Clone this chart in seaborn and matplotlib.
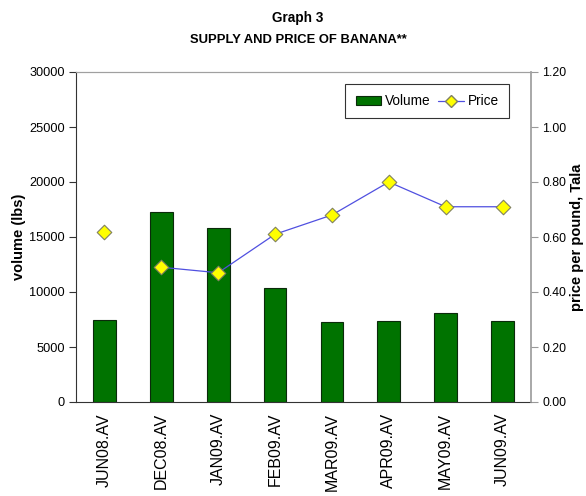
import matplotlib
matplotlib.use("Agg")
import matplotlib.pyplot as plt
import seaborn as sns
import numpy as np
import pandas as pd
from matplotlib.lines import Line2D
from matplotlib.patches import Patch
from matplotlib import font_manager

categories = ["JUN08.AV", "DEC08.AV", "JAN09.AV", "FEB09.AV",
              "MAR09.AV", "APR09.AV", "MAY09.AV", "JUN09.AV"]
volume = [7500, 17300, 15800, 10400, 7300, 7400, 8100, 7400]
price = [0.62, 0.49, 0.47, 0.61, 0.68, 0.80, 0.71, 0.71]
vol_ticks = [0, 5000, 10000, 15000, 20000, 25000, 30000]
price_ticks = [0.0, 0.2, 0.4, 0.6, 0.8, 1.0, 1.2]

sns.set_style("white")
plt.rcParams['font.family'] = ['Liberation Sans', 'DejaVu Sans']
for k in ["text.color", "axes.labelcolor", "xtick.color", "ytick.color"]:
    plt.rcParams[k] = "black"

names = {f.name for f in font_manager.fontManager.ttflist}
has_narrow = 'Liberation Sans Narrow' in names
narrow = ['Liberation Sans Narrow', 'Liberation Sans', 'DejaVu Sans'] \
    if has_narrow else ['Liberation Sans', 'DejaVu Sans']
ns = 1.0 if has_narrow else 0.85

df = pd.DataFrame({"cat": categories, "volume": volume, "price": price})
df["x"] = np.arange(len(df))

fig = plt.figure(figsize=(5.86, 4.96), dpi=100)
ax = fig.add_axes([76/586, 1 - 402/496, (531-76)/586, (402-72)/496])

sns.barplot(data=df, x="x", y="volume", ax=ax, width=0.4,
            color="#007300", edgecolor="#0b2a0b", linewidth=0.8,
            saturation=1, native_scale=True)
ax.set_xlim(-0.5, len(df) - 0.5)
ax.set_ylim(0, 30000)
ax.set_yticks(vol_ticks)
ax.set_yticklabels([str(v) for v in vol_ticks], fontsize=10.8 * ns, family=narrow)
ax.set_xticks(df["x"])
ax.set_xticklabels(categories, rotation=90, fontsize=11.5)
ax.tick_params(axis="x", length=0, pad=8)
ax.set_xticks(np.arange(-0.5, len(df), 1), minor=True)
ax.tick_params(axis="x", which="minor", length=5, direction="out", color="#333333")
ax.tick_params(axis="y", length=5, direction="out", color="#333333", pad=3)
ax.set_xlabel("")
ax.set_ylabel("volume (lbs)", fontsize=10.5, fontweight="bold", va="center")
ax.yaxis.set_label_coords((19 - 76) / 455, 0.5)
for s in ["left", "bottom"]:
    ax.spines[s].set_color("#333333")
ax.spines["top"].set_color("#a0a0a0")
ax.spines["right"].set_visible(False)

ax2 = ax.twinx()
line_df = df.iloc[1:]
sns.lineplot(data=line_df, x="x", y="price", ax=ax2, color="#5050e0",
             linewidth=0.9, marker=None)
sns.scatterplot(data=df, x="x", y="price", ax=ax2, marker="D", s=55,
                color="#ffff00", edgecolor="#808060", linewidth=0.8, zorder=5)
ax2.set_xlim(-0.5, len(df) - 0.5)
ax2.set_ylim(0, 1.2)
ax2.set_yticks(price_ticks)
ax2.set_yticklabels([f"{v:.2f}" for v in price_ticks], fontsize=10.5 * ns, family=narrow)
ax2.tick_params(axis="y", length=5, direction="out", color="#999999", pad=3)
ax2.set_ylabel("price per pound, Tala", fontsize=10.5, fontweight="bold", va="center")
ax2.yaxis.set_label_coords((577 - 76) / 455, 0.5)
ax2.set_xlabel("")
ax2.spines["right"].set_color("#999999")
ax2.spines["right"].set_linewidth(1.2)
ax2.spines["top"].set_color("#a0a0a0")
ax2.spines["left"].set_visible(False)
ax2.spines["bottom"].set_visible(False)

handles = [Patch(facecolor="#007300", edgecolor="#0b2a0b", linewidth=0.8),
           Line2D([0], [0], color="#5050e0", lw=0.9, marker="D",
                  markerfacecolor="#ffff00", markeredgecolor="#808060", markersize=6)]
leg = ax2.legend(handles, ["Volume", "Price"], loc="upper right",
                 bbox_to_anchor=((509 - 76) / 455, (402 - 84) / 330), ncol=2,
                 prop={"family": narrow, "size": 11.5 * ns},
                 frameon=True, fancybox=False, handlelength=1.9, handleheight=0.6,
                 handletextpad=0.3, columnspacing=0.5, borderpad=0.75,
                 borderaxespad=0)
leg.get_frame().set_edgecolor("black")
leg.get_frame().set_linewidth(0.8)

fig.text(298 / 586, 1 - 18 / 496, "Graph 3", ha="center", va="center",
         fontsize=11.5 * ns, fontweight="bold", family=narrow)
fig.text(298 / 586, 1 - 40 / 496, "SUPPLY AND PRICE OF BANANA**", ha="center",
         va="center", fontsize=11 * ns, fontweight="bold", family=narrow)

fig.savefig("out.png", dpi=100)
